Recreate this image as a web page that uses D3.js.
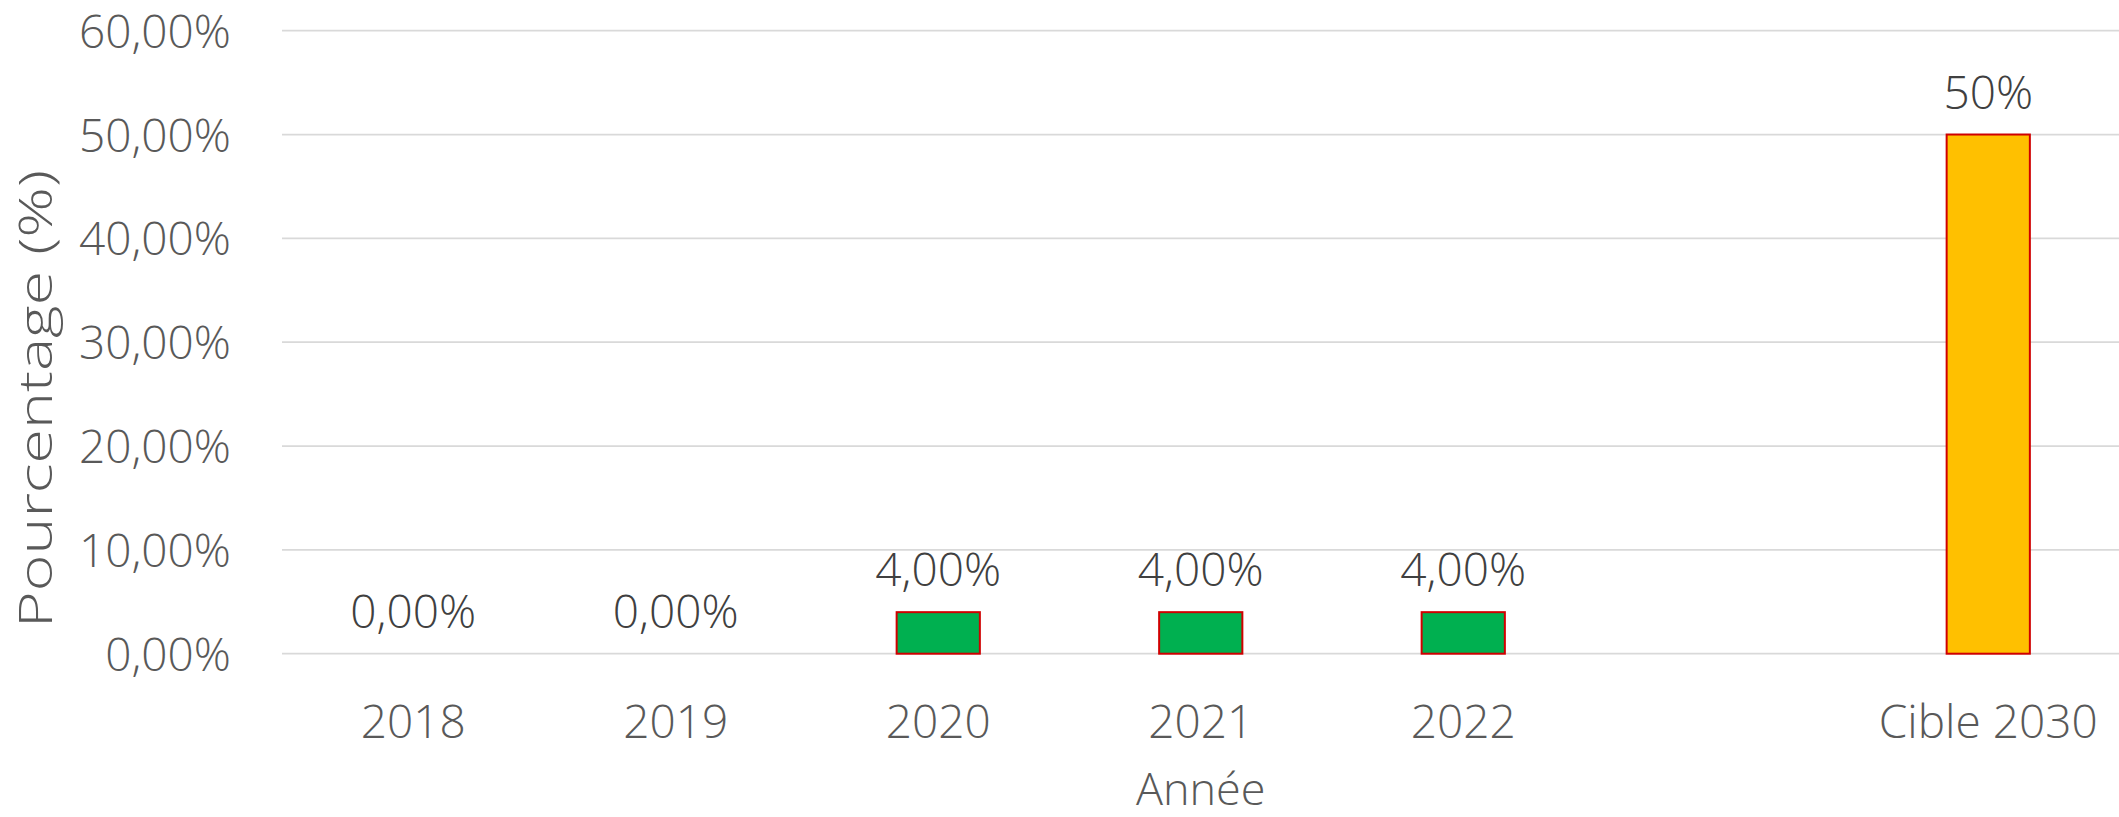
<!DOCTYPE html>
<html>
<head>
<meta charset="utf-8">
<script src="https://cdn.jsdelivr.net/npm/d3@7"></script>
<style>
  html, body { margin: 0; padding: 0; background: #ffffff; }
  svg { display: block; }
  text { font-family: "Open Sans", "Noto Sans", sans-serif; font-weight: 300; }
</style>
</head>
<body>
<svg id="chart" width="2119" height="817"></svg>
<script>
// ---- data ----
const categories = ["2018", "2019", "2020", "2021", "2022", " ", "Cible 2030"];
const values = [0, 0, 4, 4, 4, null, 50];
const valueLabels = ["0,00%", "0,00%", "4,00%", "4,00%", "4,00%", null, "50%"];
const yTicks = [0, 10, 20, 30, 40, 50, 60];
const yTickLabels = ["0,00%", "10,00%", "20,00%", "30,00%", "40,00%", "50,00%", "60,00%"];
const xTitle = "Année";
const yTitle = "Pourcentage (%)";
const targetCategory = "Cible 2030";

// ---- layout ----
const W = 2119, H = 817;
const plot = { left: 282, right: 2119.5, top: 30.7, bottom: 653.7 };
const svg = d3.select("#chart");

const x = d3.scaleBand()
  .domain(categories)
  .range([plot.left, plot.right])
  .paddingInner(0.683)
  .paddingOuter(0.683 / 2);

const y = d3.scaleLinear()
  .domain([0, 60])
  .range([plot.bottom, plot.top]);

// gridlines
svg.append("g")
  .selectAll("line")
  .data(yTicks)
  .join("line")
  .attr("x1", plot.left)
  .attr("x2", plot.right)
  .attr("y1", d => y(d))
  .attr("y2", d => y(d))
  .attr("stroke", "#d9d9d9")
  .attr("stroke-width", 1.8);

// y axis labels
const yAxis = d3.axisLeft(y)
  .tickValues(yTicks)
  .tickFormat((d, i) => yTickLabels[i])
  .tickSize(0)
  .tickPadding(0);
const gy = svg.append("g")
  .attr("transform", `translate(231,0)`)
  .call(yAxis);
gy.select(".domain").remove();
gy.selectAll("text")
  .attr("fill", "#595959")
  .style("font-size", "46px")
  .attr("dy", "0.36em");

// x axis labels
const xAxis = d3.axisBottom(x).tickSize(0).tickPadding(0);
const gx = svg.append("g")
  .attr("transform", `translate(0,738)`)
  .call(xAxis);
gx.select(".domain").remove();
gx.selectAll("text")
  .attr("fill", "#595959")
  .attr("dy", "0")
  .attr("y", 0)
  .style("font-size", "46px");

// bars
const idx = d3.range(categories.length).filter(i => values[i] != null && values[i] > 0);
svg.append("g")
  .selectAll("rect")
  .data(idx)
  .join("rect")
  .attr("x", i => x(categories[i]))
  .attr("width", x.bandwidth())
  .attr("y", i => y(values[i]))
  .attr("height", i => y(0) - y(values[i]))
  .attr("fill", i => categories[i] === targetCategory ? "#ffc000" : "#00b050")
  .attr("stroke", "#d00000")
  .attr("stroke-width", 2);

// data labels
const lidx = d3.range(categories.length).filter(i => values[i] != null);
svg.append("g")
  .selectAll("text")
  .data(lidx)
  .join("text")
  .attr("x", i => x(categories[i]) + x.bandwidth() / 2)
  .attr("y", i => y(values[i]) - 26)
  .attr("text-anchor", "middle")
  .attr("fill", "#404040")
  .style("font-size", "46px")
  .text(i => valueLabels[i]);

// axis titles
svg.append("text")
  .attr("x", (plot.left + plot.right) / 2)
  .attr("y", 805)
  .attr("text-anchor", "middle")
  .attr("fill", "#595959")
  .style("font-size", "45px")
  .text(xTitle);

svg.append("text")
  .attr("transform", `translate(52,399) rotate(-90)`)
  .attr("text-anchor", "middle")
  .attr("fill", "#595959")
  .style("font-size", "46px")
  .attr("textLength", 458)
  .attr("lengthAdjust", "spacingAndGlyphs")
  .text(yTitle);
</script>
</body>
</html>
